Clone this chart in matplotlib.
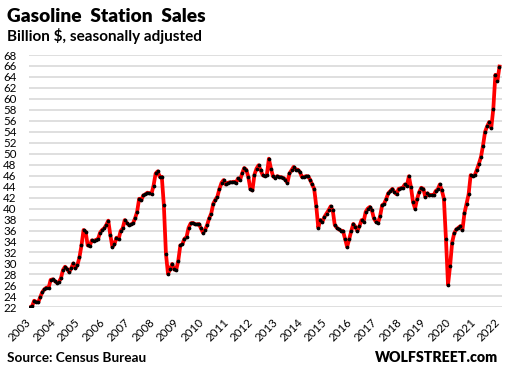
import numpy as np
import matplotlib.pyplot as plt
import matplotlib.transforms as mtransforms

# monthly sales, May 2003 - May 2022 (billion $, seasonally adjusted)
sales_2003_2008 = [22.0, 22.2, 23.2, 23.0, 22.9, 23.9, 24.8, 25.3, 25.6, 25.5,
                   27.0, 27.1, 26.8, 26.5, 26.6, 27.3, 28.8, 29.4, 29.0, 28.4,
                   29.1, 30.0, 29.1, 29.7, 31.1,
                   33.3, 36.1, 35.8, 33.3, 33.2, 34.2, 34.1, 34.3, 34.4, 35.6,
                   36.1, 36.4, 37.0, 37.8, 35.2, 33.0, 33.5, 34.7, 34.4, 35.9,
                   36.4, 37.9, 37.4, 37.0, 37.1, 37.3, 38.2, 39.4, 41.8, 41.5,
                   42.4, 42.6, 42.9, 42.8, 42.7, 44.2, 46.4, 46.8, 45.8, 45.8,
                   40.6, 31.8, 28.1, 28.9, 29.9, 28.9, 28.8, 30.5, 33.3]
sales_2009_2016 = [33.5, 34.5, 34.8, 36.5, 37.3, 37.4, 37.2, 37.1, 37.2, 36.4,
                   35.6, 36.1, 37.0, 38.2, 39.1, 40.9, 41.6, 42.2, 43.6, 44.7,
                   45.2, 44.4, 44.7, 44.8, 44.8, 44.9, 44.7, 45.5, 45.2, 46.4,
                   47.4, 47.1, 45.8, 43.6, 43.3, 46.2, 47.3, 47.9, 47.0, 46.1,
                   45.9, 46.1, 49.1, 47.3, 45.9, 45.6, 45.9, 45.8, 45.7, 45.6,
                   45.3, 44.7, 46.4, 47.0, 47.6, 47.1, 47.1, 46.7, 45.8, 45.8,
                   45.9, 45.9, 45.3, 44.4, 43.6, 40.5, 36.5, 37.9, 37.6, 38.5,
                   39.1, 39.7, 40.4, 39.7, 37.0, 36.5, 36.2, 36.0, 35.9, 34.5,
                   33.0, 34.4, 35.9]
sales_2016_2020 = [37.2, 36.7, 35.9, 36.8, 37.9, 37.6, 39.4, 40.0, 40.3, 39.7,
                   38.2, 37.6, 37.4, 38.6, 40.6, 40.9, 41.8, 42.8, 43.2, 43.6,
                   43.0, 42.6, 43.6, 43.7, 43.8, 44.4, 44.1, 45.9, 43.9, 41.2,
                   40.0, 41.8, 43.0, 43.8, 43.6, 42.1, 42.8, 42.4, 42.5, 42.4,
                   43.2, 43.5, 44.4, 43.3, 41.8, 34.4, 26.1]
sales_2020_2022 = [29.5, 33.8, 35.5, 36.2, 36.5, 36.8, 36.1, 39.2, 40.9, 42.6,
                   46.1, 45.9, 46.1, 47.1, 48.2, 49.4, 51.5, 54.0, 55.0, 55.8,
                   54.7, 58.2, 64.4, 63.3, 65.9]
sales = np.array(sales_2003_2008 + sales_2009_2016 + sales_2016_2020 + sales_2020_2022)
years = [str(y) for y in range(2003, 2023)]

plt.rcParams['font.family'] = ['Lato', 'DejaVu Sans']

fig = plt.figure(figsize=(5.05, 3.71), dpi=100)
ax = fig.add_axes([0.0574, 0.1717, 0.937, 0.680])

x = np.arange(len(sales))
ax.plot(x, sales, color="#ff0000", linewidth=2.7, zorder=3)
ax.plot(x, sales, linestyle="none", marker="o", markersize=1.7, color="black", zorder=4)

ax.set_ylim(22, 68)
ax.set_yticks(np.arange(22, 69, 2))
ax.set_xlim(-0.5, 229.3)
ax.set_xticks(np.arange(0, len(sales), 12))
ax.set_xticklabels(years, rotation=45, ha="right", va="top", rotation_mode="anchor")
ax.grid(axis="y", color="#d9d9d9", linewidth=1.2)
ax.set_axisbelow(True)
for s in ax.spines.values():
    s.set_visible(False)
ax.tick_params(axis="y", length=0, pad=9, labelsize=8.3)
ax.tick_params(axis="x", length=0, pad=7, labelsize=8.3)

# nudge the year labels a bit to the left, like Excel does
shift = mtransforms.ScaledTranslation(-5 / 100, 0, fig.dpi_scale_trans)
for lbl in ax.get_xticklabels():
    lbl.set_transform(lbl.get_transform() + shift)

fig.text(0.014, 0.978, "Gasoline  Station  Sales", fontsize=13.8, fontweight="heavy", va="top")
fig.text(0.014, 0.925, "Billion $, seasonally adjusted", fontsize=11, fontweight="bold", va="top")
fig.text(0.014, 0.02, "Source: Census Bureau", fontsize=9.8, fontweight="bold", va="bottom")
fig.text(0.986, 0.02, "WOLFSTREET.com", fontsize=10.2, fontweight="heavy", va="bottom", ha="right")

fig.savefig("out.png", dpi=100)
